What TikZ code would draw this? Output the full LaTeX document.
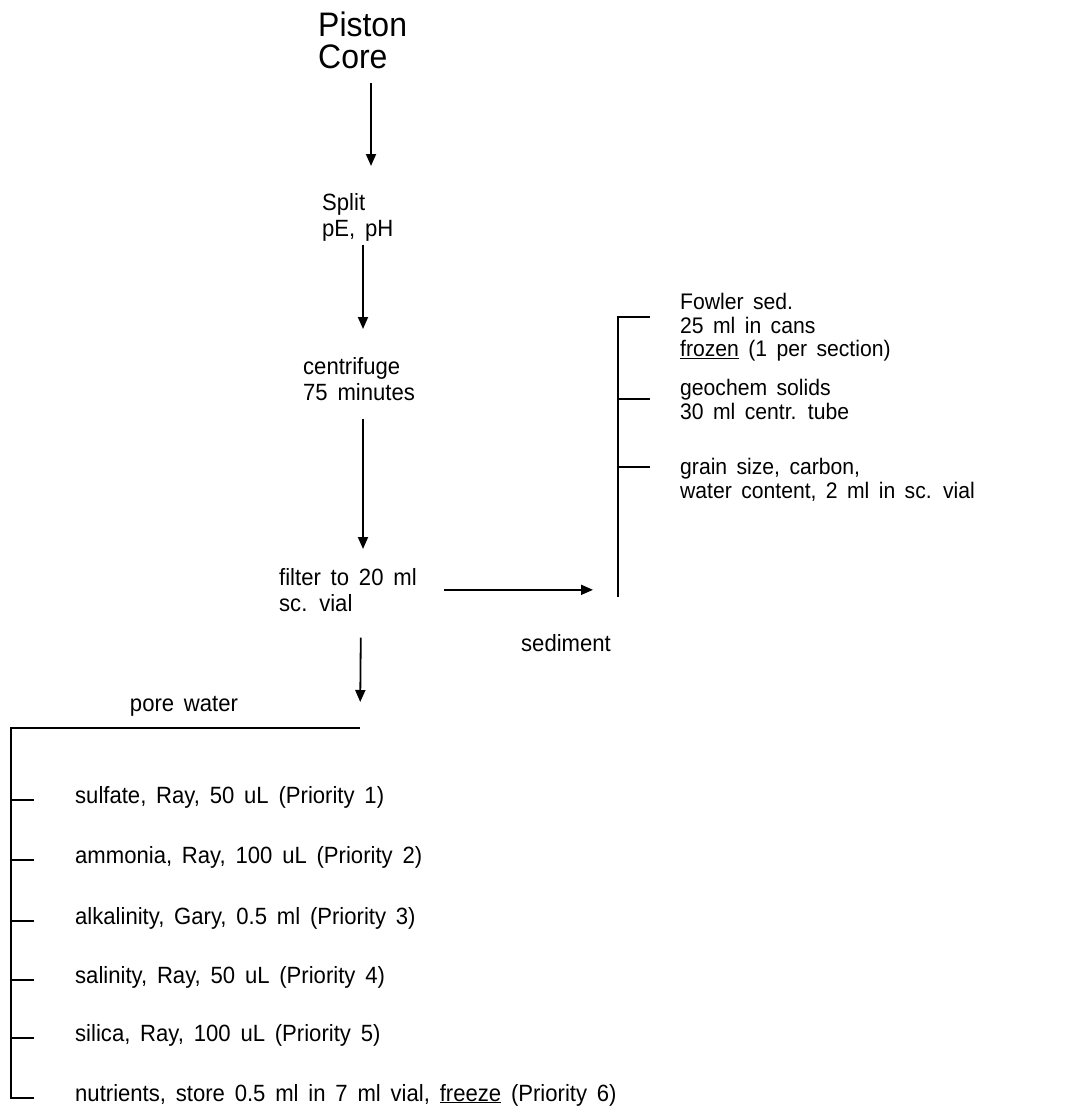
\documentclass[tikz,border=0pt]{standalone}
\usepackage{fontspec}
\setmainfont{Liberation Sans}[WordSpace=1.6, FakeStretch=0.94]
\usetikzlibrary{arrows.meta, positioning}

\begin{document}
\begin{tikzpicture}[
    x=1pt, y=-1pt,
    lbl/.style={inner sep=0pt, align=left, font=\fontsize{23.5}{26}\selectfont},
    title/.style={lbl, font=\fontsize{34}{32}\selectfont},
    sedlbl/.style={lbl, font=\fontsize{22.5}{23.5}\selectfont},
    item/.style={inner sep=0pt, anchor=base west, font=\fontsize{23.5}{26}\selectfont},
    arrow/.style={-{Triangle[length=12pt, width=10pt]}, line width=1.8pt},
    rule/.style={line width=1.8pt}
  ]
    \useasboundingbox (0,0) rectangle (1065,1113);
    % main chain
    \node[title, anchor=north west] (core) at (318,12) {Piston\\Core};
    \node[lbl, anchor=north west] (split) at (322,193) {Split\\pE, pH};
    \node[lbl, anchor=north west] (centrifuge) at (303,357) {centrifuge\\75 minutes};
    \node[lbl, anchor=north west] (filter) at (279,568) {filter to 20 ml\\sc. vial};
    \draw[arrow, shorten <=14pt, shorten >=27pt] ([xshift=53pt]core.south west) -- ([xshift=49pt]split.north west);
    \draw[arrow, shorten <=4pt, shorten >=28pt] ([xshift=41pt]split.south west) -- ([xshift=60pt]centrifuge.north west);
    \draw[arrow, shorten <=18pt, shorten >=19pt] ([xshift=60pt]centrifuge.south west) -- ([xshift=84pt]filter.north west);
    % sediment branch
    \coordinate (sedtop) at (618,317);
    \coordinate (sedbot) at (618,597);
    \node[lbl] (sediment) at (566,643) {sediment};
    \node[sedlbl, anchor=north west] (fowler) at (680,293) {Fowler sed.\\25 ml in cans\\\underline{frozen} (1 per section)};
    \node[sedlbl, anchor=north west] (geochem) at (680,379) {geochem solids\\30 ml centr. tube};
    \node[sedlbl, anchor=north west] (grain) at (680,458) {grain size, carbon,\\water content, 2 ml in sc. vial};
    \draw[arrow, shorten <=27pt, shorten >=25pt] (filter.east) -- (filter.east -| sedbot);
    \draw[rule] (sedbot) -- (sedtop) -- ++(32,0);
    \draw[rule] (sedtop |- geochem.west) -- ++(32,0);
    \draw[rule] (sedtop |- grain.north) ++(0,9) -- ++(32,0);
    % pore water branch
    \coordinate (pw) at (11,728);
    \coordinate (pwr) at (360,728);
    \node[lbl] (pore) at (184,706) {pore water};
    \draw[arrow, shorten <=26pt, shorten >=26pt] ([xshift=82pt]filter.south west) -- (pwr);
    \node[item] (sulfate) at (75,803) {sulfate, Ray, 50 uL (Priority 1)};
    \node[item] (ammonia) at (75,863) {ammonia, Ray, 100 uL (Priority 2)};
    \node[item] (alkalinity) at (75,924) {alkalinity, Gary, 0.5 ml (Priority 3)};
    \node[item] (salinity) at (75,983) {salinity, Ray, 50 uL (Priority 4)};
    \node[item] (silica) at (75,1041) {silica, Ray, 100 uL (Priority 5)};
    \node[item] (nutrients) at (75,1101) {nutrients, store 0.5 ml in 7 ml vial, \underline{freeze} (Priority 6)};
    \draw[rule] (pwr) -- (pw) -- (pw |- nutrients.mid west) -- ++(23,0);
    \draw[rule] (pw |- sulfate.mid west) -- ++(23,0);
    \draw[rule] (pw |- ammonia.mid west) -- ++(23,0);
    \draw[rule] (pw |- alkalinity.mid west) -- ++(23,0);
    \draw[rule] (pw |- salinity.mid west) -- ++(23,0);
    \draw[rule] (pw |- silica.mid west) -- ++(23,0);
\end{tikzpicture}
\end{document}
